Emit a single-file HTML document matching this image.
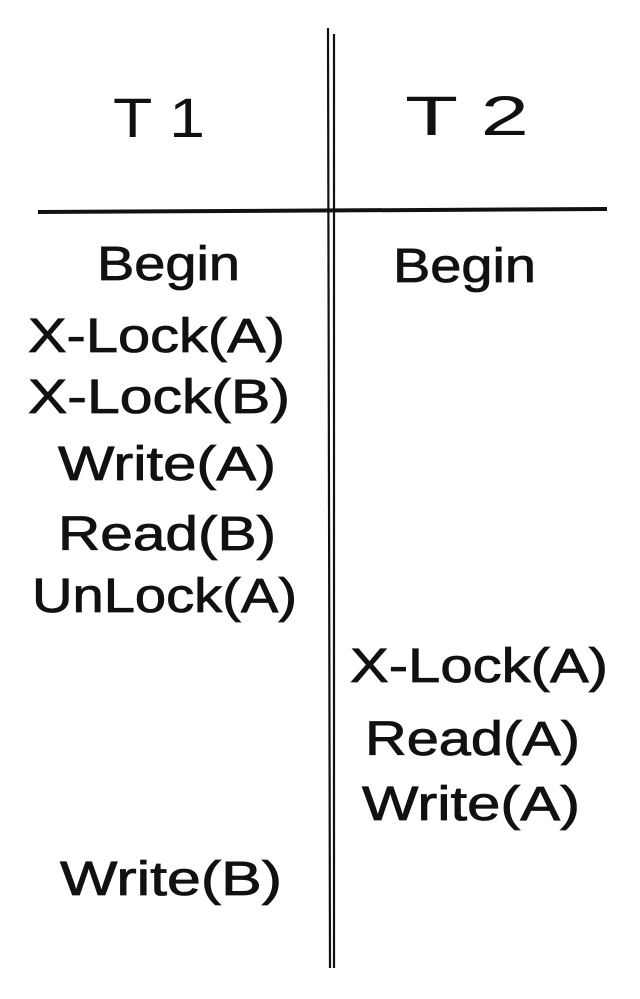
<!DOCTYPE html>
<html><head><meta charset="utf-8"><style>
html,body{margin:0;padding:0;background:#fff;width:640px;height:999px;overflow:hidden}
text{font-family:"Liberation Sans","DejaVu Sans",sans-serif;fill:#111}
</style></head><body>
<svg width="640" height="999" viewBox="0 0 640 999" xmlns="http://www.w3.org/2000/svg">
<line x1="328" y1="28" x2="330" y2="968" stroke="#111" stroke-width="2.2"/>
<line x1="334" y1="34" x2="334" y2="968" stroke="#111" stroke-width="2.2"/>
<line x1="38" y1="212" x2="607" y2="209" stroke="#111" stroke-width="4"/>
<g font-size="56">
<text x="113" y="137" textLength="92" lengthAdjust="spacingAndGlyphs">T 1</text>
<text x="405" y="135" textLength="124" lengthAdjust="spacingAndGlyphs">T 2</text>
</g>
<g font-size="48" stroke="#111" stroke-width="0.8">
<text x="97" y="280" textLength="143" lengthAdjust="spacingAndGlyphs">Begin</text>
<text x="393" y="282" textLength="143" lengthAdjust="spacingAndGlyphs">Begin</text>
<text x="28" y="352" textLength="257" lengthAdjust="spacingAndGlyphs">X-Lock(A)</text>
<text x="28" y="413" textLength="262" lengthAdjust="spacingAndGlyphs">X-Lock(B)</text>
<text x="58" y="480" textLength="218" lengthAdjust="spacingAndGlyphs">Write(A)</text>
<text x="58" y="550" textLength="218" lengthAdjust="spacingAndGlyphs">Read(B)</text>
<text x="32" y="612" textLength="265" lengthAdjust="spacingAndGlyphs">UnLock(A)</text>
<text x="350" y="682" textLength="258" lengthAdjust="spacingAndGlyphs">X-Lock(A)</text>
<text x="365" y="755" textLength="215" lengthAdjust="spacingAndGlyphs">Read(A)</text>
<text x="362" y="820" textLength="218" lengthAdjust="spacingAndGlyphs">Write(A)</text>
<text x="60" y="895" textLength="222" lengthAdjust="spacingAndGlyphs">Write(B)</text>
</g>
</svg>
</body></html>
